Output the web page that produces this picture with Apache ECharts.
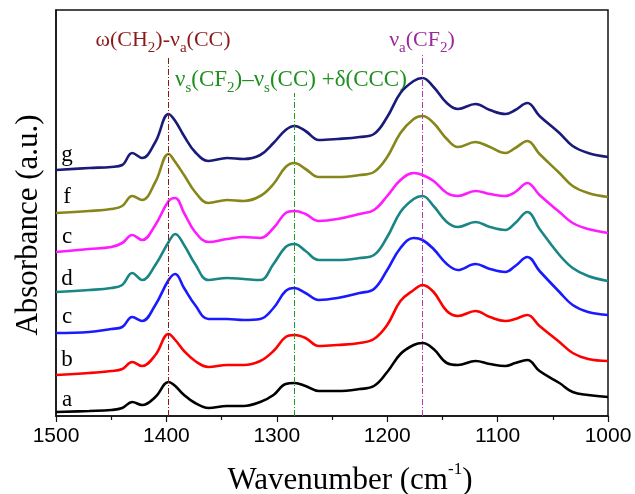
<!DOCTYPE html>
<html lang="en">
<head>
    <meta charset="UTF-8">
    <title>FTIR</title>
    <script src="https://cdn.jsdelivr.net/npm/echarts@6/dist/echarts.min.js"></script>
    <style>
        *{
            margin: 0;
            padding: 0;
        }
        .container{
            width: 635px;
            height: 494px;
            background: #fff;
        }
    </style>
</head>
<body>
<div class="container"></div>
<script>
    // wavenumbers (cm-1) shared by every spectrum
    let wn=[1500,1470,1450,1440,1431,1422,1410,1398,1392,1384,1374,1362,1345,1330,1315,1303,1292,1284,1274,1262,
        1245,1225,1212,1200,1188,1176,1168,1158,1146,1136,1120,1107,1093,1084,1073,1062,1044,1032,1018,1000]

    // stacked absorbance (a.u., offsets included)
    let specA=[0.04,0.05,0.06,0.08,0.14,0.11,0.19,0.34,0.30,0.21,0.13,0.08,0.10,0.10,0.14,0.21,0.32,0.33,0.30,0.25,
        0.25,0.27,0.30,0.44,0.62,0.71,0.73,0.67,0.53,0.51,0.55,0.52,0.50,0.53,0.56,0.45,0.33,0.24,0.21,0.19]
    let specB=[0.41,0.43,0.45,0.47,0.54,0.50,0.61,0.82,0.76,0.65,0.55,0.49,0.51,0.51,0.55,0.65,0.79,0.81,0.78,0.70,
        0.71,0.73,0.77,0.91,1.15,1.26,1.31,1.24,1.05,1.00,1.05,0.99,0.95,0.97,1.01,0.90,0.74,0.63,0.57,0.55]
    let specC1=[0.83,0.84,0.87,0.89,0.99,0.95,1.11,1.36,1.42,1.28,1.11,0.97,0.97,0.96,0.97,1.08,1.25,1.28,1.23,1.16,
        1.18,1.23,1.27,1.46,1.68,1.78,1.76,1.67,1.52,1.46,1.52,1.47,1.44,1.50,1.59,1.45,1.24,1.11,1.04,1.01]
    let specD=[1.24,1.26,1.28,1.31,1.43,1.36,1.51,1.74,1.82,1.71,1.52,1.36,1.38,1.37,1.36,1.52,1.69,1.72,1.65,1.56,
        1.56,1.58,1.61,1.79,2.04,2.17,2.20,2.10,1.94,1.89,1.94,1.89,1.86,1.93,2.04,1.87,1.61,1.48,1.40,1.35]
    let specC2=[1.64,1.67,1.69,1.73,1.81,1.76,1.91,2.15,2.18,2.03,1.84,1.74,1.77,1.79,1.78,1.88,2.03,2.05,2.02,1.95,
        1.97,2.02,2.06,2.20,2.36,2.43,2.41,2.35,2.23,2.20,2.25,2.22,2.20,2.24,2.33,2.21,2.04,1.93,1.87,1.83]
    let specF=[2.03,2.05,2.07,2.10,2.20,2.16,2.34,2.62,2.54,2.41,2.24,2.13,2.16,2.15,2.20,2.32,2.49,2.53,2.47,2.39,
        2.39,2.41,2.44,2.59,2.83,2.97,3.00,2.93,2.77,2.69,2.74,2.69,2.63,2.68,2.75,2.62,2.43,2.30,2.23,2.19]
    let specG=[2.46,2.48,2.49,2.51,2.63,2.58,2.74,3.02,2.95,2.80,2.64,2.55,2.58,2.57,2.61,2.73,2.86,2.90,2.85,2.76,
        2.77,2.79,2.82,2.99,3.23,3.35,3.38,3.29,3.13,3.07,3.12,3.06,3.02,3.06,3.13,3.00,2.83,2.70,2.63,2.59]

    let names=['a','b','c','d','c','f','g']
    let colors=['#000000','#ff0000','#1a1aff','#1a8585','#ff1aff','#86861a','#1a1a7a']
    let spectra=[specA,specB,specC1,specD,specC2,specF,specG]
    // where the sample letters sit (wavenumber, absorbance)
    let letterPos=[[1490,0.165],[1490,0.56],[1490,0.99],[1490,1.37],[1490,1.79],[1490,2.19],[1490,2.61]]

    // band guides: wavenumber, top of the guide, colour
    let bandWn=[1398.5,1284.5,1168.5]
    let bandTop=[3.58,3.23,3.63]
    let bandColors=['#8b1a1a','#1f991f','#b03cb0']

    let serif='"Liberation Serif", "Times New Roman", serif'
    let container=document.querySelector('.container')
    let chart=echarts.init(container)

    let series=spectra.map((spec,i)=>({
        name:names[i]+i,
        type:'line',
        data:spec.map((v,k)=>[wn[k],v]),
        smooth:0.4,
        symbol:'none',
        lineStyle:{color:colors[i],width:2.6},
        markPoint:{
            symbol:'circle',
            symbolSize:0,
            silent:true,
            label:{
                show:true,
                position:'inside',
                formatter:names[i],
                color:'#000',
                fontFamily:serif,
                fontSize:23
            },
            data:[{coord:letterPos[i]}]
        }
    }))

    series.push({
        type:'line',
        data:[],
        markLine:{
            silent:true,
            symbol:'none',
            label:{show:false},
            data:bandWn.map((w,i)=>[
                {coord:[w,0],lineStyle:{color:bandColors[i],width:1,type:[6,2,1,2]}},
                {coord:[w,bandTop[i]]}
            ])
        }
    })

    // rich text pieces for the band labels (graphic text uses fill)
    function main(color,size){
        return {fontFamily:serif,fontSize:size,lineHeight:32,verticalAlign:'middle',fill:color}
    }
    function sub(color){
        return {fontFamily:serif,fontSize:15,lineHeight:14,verticalAlign:'bottom',fill:color}
    }
    function bandLabel(text,x,y,align,color,size){
        return {
            type:'text',
            x,
            y,
            style:{
                text,
                fill:color,
                align,
                verticalAlign:'middle',
                rich:{m:main(color,size),s:sub(color)}
            }
        }
    }

    let option={
        backgroundColor:'#fff',
        animation:false,
        grid:{
            left:56,
            right:27,
            top:10,
            bottom:78,
            outerBoundsMode:'none',
            containLabel:false,
            show:true,
            borderColor:'#111',
            borderWidth:1.5
        },
        xAxis:{
            type:'value',
            min:1000,
            max:1500,
            interval:100,
            inverse:true,
            name:'Wavenumber (cm{sup|-1})',
            nameLocation:'middle',
            nameGap:45,
            nameTextStyle:{
                fontFamily:serif,
                fontSize:31,
                color:'#000',
                lineHeight:40,
                padding:[0,0,0,36],
                rich:{
                    sup:{fontFamily:serif,fontSize:17,lineHeight:17,verticalAlign:'top',color:'#000'}
                }
            },
            axisLine:{lineStyle:{color:'#111',width:1.5}},
            axisTick:{length:6,lineStyle:{color:'#111',width:1.2}},
            minorTick:{show:true,splitNumber:2,length:4,lineStyle:{color:'#111',width:1.2}},
            axisLabel:{
                fontFamily:'"Liberation Sans", Arial, sans-serif',
                fontSize:21,
                color:'#000',
                margin:10,
                formatter:v=>String(v)
            },
            splitLine:{show:false}
        },
        yAxis:{
            type:'value',
            min:0,
            max:4.06,
            axisLine:{show:true,lineStyle:{color:'#111',width:1.5}},
            axisTick:{show:false},
            axisLabel:{show:false},
            splitLine:{show:false}
        },
        graphic:[
            {
                type:'text',
                x:29,
                y:225,
                rotation:Math.PI/2,
                style:{
                    text:'Absorbance (a.u.)',
                    fill:'#000',
                    font:'31px '+serif,
                    align:'center',
                    verticalAlign:'middle'
                }
            },
            bandLabel('{m|ω(CH}{s|2}{m|)-ν}{s|a}{m|(CC)}',163,40,'center',bandColors[0],22),
            bandLabel('{m|ν}{s|s}{m|(CF}{s|2}{m|)–ν}{s|s}{m|(CC) +δ(CCC)}',175,80,'left','#1f8f1f',23),
            bandLabel('{m|ν}{s|a}{m|(CF}{s|2}{m|)}',422,40,'center','#9a2a9a',22)
        ],
        series
    }

    chart.setOption(option)
</script>
</body>
</html>
